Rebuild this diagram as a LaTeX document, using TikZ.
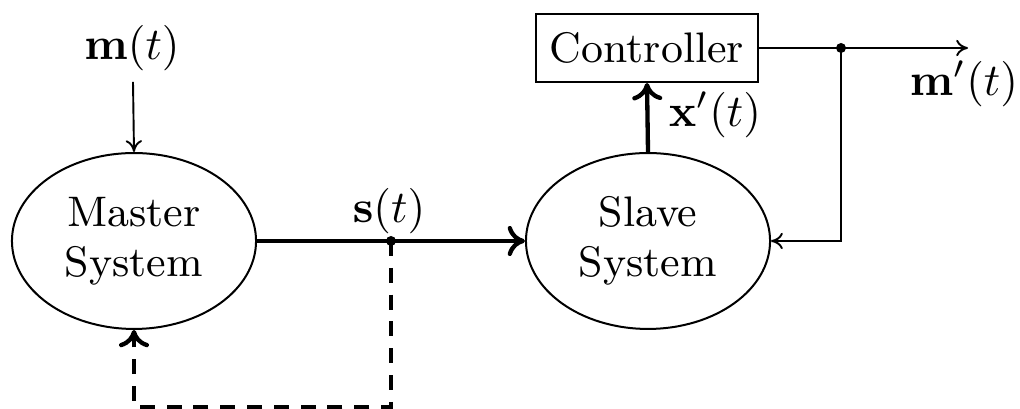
\documentclass[tikz,border=0pt]{standalone}
\usetikzlibrary{shapes.geometric,arrows.meta}
\begin{document}
\begin{tikzpicture}[x=0.22pt,y=-0.22pt,
  every node/.style={font=\fontsize{10}{11}\selectfont},
  txt/.style={font=\fontsize{9.4}{11}\selectfont},
  sysnode/.style={draw,ellipse,line width=0.44pt,minimum width=53.7pt,minimum height=38.7pt,inner sep=0pt,align=center,txt},
  boxnode/.style={draw,rectangle,line width=0.4pt,minimum width=49pt,minimum height=15pt,inner sep=0pt,txt},
  lab/.style={inner sep=0pt},
  thinarrow/.style={line width=0.42pt,-{To[length=2.6pt,width=3.6pt]}},
  thickarrow/.style={line width=0.95pt,-{To[length=3.8pt,width=6.6pt]}},
  dasharrow/.style={line width=0.95pt,dash pattern=on 3.3pt off 2.6pt,-{To[length=3.8pt,width=6.6pt]}},
  junction/.style={fill,circle,inner sep=0pt,minimum size=2.2pt}
]
\useasboundingbox (0,0) rectangle (1020,409);
\node[sysnode] (master) at (134,241) {Master\\System};
\node[sysnode] (slave) at (648,241) {Slave\\System};
\node[boxnode] (ctrl) at (647,48) {Controller};
\node[lab] (mlab) at (132,48) {$\mathbf{m}(t)$};
\node[lab] (mplab) at (964,84) {$\mathbf{m}'(t)$};
\node[lab] (xlab) at (715,115) {$\mathbf{x}'(t)$};
\node[lab] (slab) at (389,211) {$\mathbf{s}(t)$};
\coordinate (min) at (133,82);
\coordinate (d1) at (841,48);
\coordinate (out) at (968,48);
\coordinate (d2) at (391,241);
\coordinate (db) at (391,407);
\draw[thinarrow] (min) -- (master.north);
\draw[thickarrow] (master.east) -- (slave.west);
\draw[thickarrow] (slave.north) -- (ctrl.south);
\draw[thinarrow] (ctrl.east) -- (out);
\draw[thinarrow] (d1) |- (slave.east);
\draw[dasharrow] (d2) -- (db) -| (master.south);
\node[junction] (j1) at (d1) {};
\node[junction] (j2) at (d2) {};
\end{tikzpicture}
\end{document}
